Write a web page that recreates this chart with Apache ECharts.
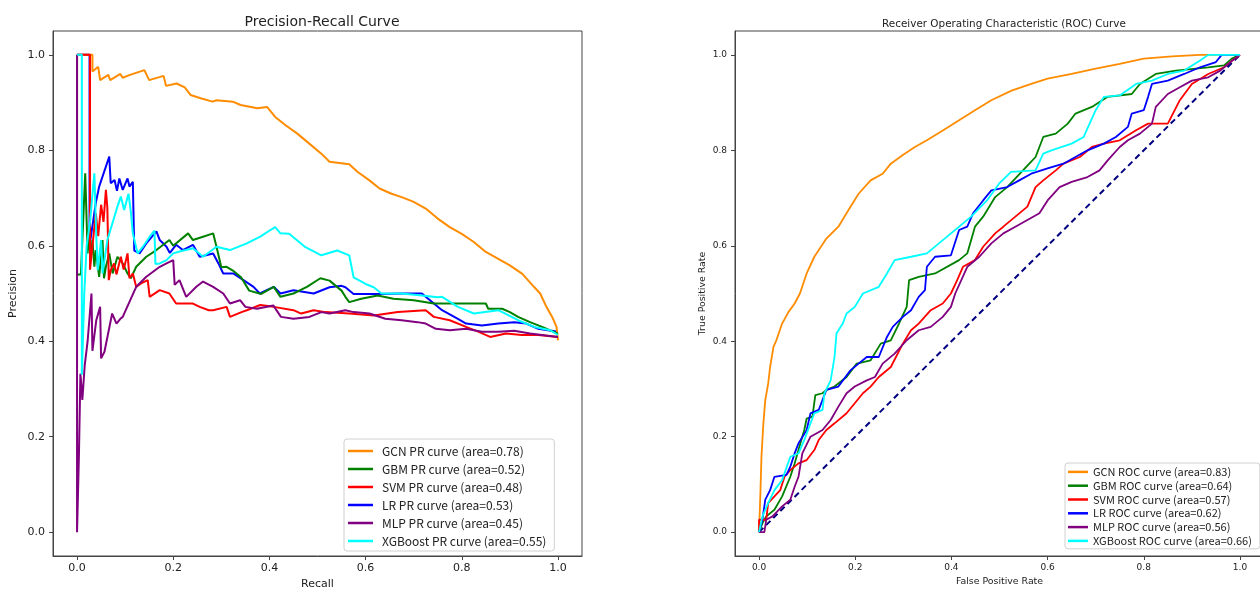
<!DOCTYPE html>
<html>
<head>
<meta charset="utf-8">
<script src="https://cdn.jsdelivr.net/npm/echarts@6/dist/echarts.min.js"></script>
<style>
html,body{margin:0;padding:0;background:#fff;}
#chart{width:1260px;height:592px;}
</style>
</head>
<body>
<div id="chart"></div>
<script>
// ---- tick labels ----
const tickValues = [0, 0.2, 0.4, 0.6, 0.8, 1.0];

// ---- series names ----
const prNames = ['GCN PR curve (area=0.78)','GBM PR curve (area=0.52)','SVM PR curve (area=0.48)','LR PR curve (area=0.53)','MLP PR curve (area=0.45)','XGBoost PR curve (area=0.55)'];
const rocNames = ['GCN ROC curve (area=0.83)','GBM ROC curve (area=0.64)','SVM ROC curve (area=0.57)','LR ROC curve (area=0.62)','MLP ROC curve (area=0.56)','XGBoost ROC curve (area=0.66)'];
const colors = ['#FF8C00','#008000','#FF0000','#0000FF','#800080','#00FFFF'];

// ---- Precision-Recall data: [recall, precision] ----
const gcnPR = [[0,1.0],[0.032,1.0],[0.032,0.965],[0.044,0.975],[0.048,0.947],[0.065,0.958],[0.069,0.947],[0.09,0.96],[0.095,0.952],[0.11,0.958],[0.14,0.968],[0.15,0.947],[0.18,0.956],[0.185,0.935],[0.207,0.94],[0.224,0.932],[0.236,0.916],[0.257,0.909],[0.282,0.902],[0.29,0.905],[0.324,0.902],[0.34,0.895],[0.375,0.888],[0.395,0.891],[0.412,0.87],[0.433,0.853],[0.458,0.835],[0.483,0.814],[0.508,0.793],[0.525,0.776],[0.566,0.771],[0.583,0.755],[0.608,0.737],[0.629,0.72],[0.654,0.709],[0.675,0.702],[0.7,0.692],[0.725,0.678],[0.75,0.657],[0.775,0.639],[0.8,0.625],[0.825,0.608],[0.85,0.587],[0.875,0.573],[0.9,0.559],[0.926,0.541],[0.951,0.513],[0.963,0.5],[0.976,0.472],[0.988,0.451],[0.997,0.43],[1.0,0.402]];
const gbmPR = [[0,1.0],[0,0.54],[0.008,0.54],[0.017,0.752],[0.022,0.584],[0.025,0.626],[0.028,0.57],[0.032,0.612],[0.036,0.556],[0.039,0.591],[0.046,0.535],[0.053,0.612],[0.056,0.532],[0.06,0.556],[0.067,0.584],[0.074,0.542],[0.084,0.577],[0.095,0.563],[0.105,0.542],[0.112,0.532],[0.123,0.556],[0.144,0.577],[0.165,0.591],[0.192,0.612],[0.2,0.6],[0.231,0.626],[0.241,0.612],[0.262,0.619],[0.283,0.626],[0.29,0.598],[0.3,0.555],[0.311,0.556],[0.324,0.548],[0.341,0.534],[0.358,0.506],[0.383,0.499],[0.409,0.514],[0.423,0.493],[0.45,0.5],[0.478,0.514],[0.506,0.532],[0.525,0.527],[0.55,0.506],[0.558,0.493],[0.566,0.482],[0.591,0.489],[0.625,0.496],[0.658,0.489],[0.7,0.486],[0.742,0.479],[0.8,0.479],[0.85,0.479],[0.855,0.468],[0.884,0.468],[0.9,0.461],[0.917,0.451],[0.942,0.44],[0.967,0.43],[1.0,0.416]];
const svmPR = [[0,1.0],[0.027,1.0],[0.027,0.55],[0.032,0.6],[0.039,0.668],[0.044,0.62],[0.05,0.686],[0.055,0.65],[0.06,0.717],[0.063,0.68],[0.066,0.528],[0.07,0.549],[0.077,0.563],[0.082,0.54],[0.091,0.577],[0.097,0.55],[0.105,0.584],[0.109,0.532],[0.116,0.542],[0.123,0.514],[0.133,0.521],[0.147,0.528],[0.151,0.493],[0.172,0.507],[0.192,0.5],[0.206,0.479],[0.216,0.479],[0.241,0.479],[0.255,0.472],[0.274,0.465],[0.283,0.465],[0.311,0.472],[0.318,0.451],[0.342,0.461],[0.353,0.465],[0.381,0.476],[0.409,0.472],[0.45,0.465],[0.466,0.458],[0.492,0.465],[0.516,0.461],[0.566,0.458],[0.617,0.454],[0.667,0.461],[0.725,0.465],[0.742,0.451],[0.775,0.444],[0.809,0.43],[0.834,0.42],[0.859,0.409],[0.892,0.416],[0.925,0.413],[0.959,0.413],[1.0,0.409]];
const lrPR = [[0,1.0],[0.026,1.0],[0.026,0.6],[0.039,0.69],[0.046,0.724],[0.067,0.787],[0.07,0.731],[0.078,0.738],[0.083,0.715],[0.088,0.741],[0.095,0.717],[0.105,0.741],[0.109,0.724],[0.116,0.734],[0.119,0.59],[0.13,0.584],[0.144,0.605],[0.165,0.63],[0.172,0.612],[0.186,0.598],[0.193,0.585],[0.206,0.602],[0.22,0.591],[0.241,0.602],[0.255,0.577],[0.283,0.584],[0.294,0.563],[0.304,0.542],[0.325,0.542],[0.346,0.528],[0.367,0.514],[0.38,0.5],[0.409,0.514],[0.423,0.5],[0.45,0.507],[0.492,0.5],[0.525,0.513],[0.55,0.516],[0.558,0.513],[0.575,0.499],[0.625,0.499],[0.675,0.5],[0.717,0.5],[0.742,0.479],[0.759,0.465],[0.792,0.447],[0.809,0.437],[0.842,0.433],[0.876,0.437],[0.909,0.44],[0.934,0.437],[0.959,0.426],[1.0,0.42]];
const mlpPR = [[0,1.0],[0,0],[0.004,0.165],[0.007,0.332],[0.011,0.277],[0.016,0.35],[0.022,0.4],[0.03,0.5],[0.032,0.38],[0.04,0.444],[0.048,0.472],[0.05,0.364],[0.057,0.378],[0.073,0.458],[0.082,0.437],[0.09,0.447],[0.095,0.451],[0.123,0.514],[0.144,0.535],[0.172,0.556],[0.186,0.563],[0.2,0.57],[0.203,0.518],[0.213,0.528],[0.227,0.493],[0.248,0.514],[0.262,0.525],[0.283,0.514],[0.304,0.5],[0.318,0.479],[0.339,0.486],[0.35,0.472],[0.374,0.468],[0.408,0.475],[0.424,0.451],[0.45,0.447],[0.483,0.451],[0.508,0.461],[0.525,0.458],[0.558,0.465],[0.575,0.461],[0.608,0.458],[0.641,0.447],[0.675,0.444],[0.708,0.44],[0.725,0.437],[0.746,0.426],[0.775,0.423],[0.809,0.426],[0.842,0.42],[0.876,0.42],[0.909,0.422],[0.942,0.416],[0.967,0.413],[1.0,0.409]];
const xgbPR = [[0,1.0],[0.01,1.0],[0.01,0.33],[0.015,0.5],[0.02,0.6],[0.027,0.65],[0.036,0.752],[0.04,0.62],[0.043,0.549],[0.05,0.612],[0.053,0.542],[0.063,0.612],[0.084,0.682],[0.091,0.703],[0.098,0.675],[0.107,0.709],[0.112,0.67],[0.116,0.626],[0.126,0.584],[0.137,0.598],[0.151,0.619],[0.161,0.632],[0.163,0.562],[0.172,0.563],[0.186,0.57],[0.2,0.584],[0.213,0.588],[0.241,0.595],[0.262,0.577],[0.29,0.598],[0.318,0.591],[0.353,0.605],[0.381,0.619],[0.402,0.633],[0.412,0.639],[0.423,0.626],[0.441,0.625],[0.475,0.597],[0.508,0.58],[0.541,0.59],[0.566,0.58],[0.575,0.534],[0.6,0.52],[0.617,0.513],[0.633,0.5],[0.675,0.5],[0.717,0.496],[0.75,0.492],[0.759,0.493],[0.792,0.472],[0.825,0.458],[0.876,0.465],[0.917,0.444],[0.951,0.43],[0.984,0.423],[1.0,0.413]];

// ---- ROC data: [fpr, tpr] ----
const gcnROC = [[0,0],[0.003,0.088],[0.005,0.158],[0.009,0.228],[0.013,0.277],[0.019,0.311],[0.023,0.346],[0.03,0.388],[0.036,0.402],[0.048,0.437],[0.061,0.461],[0.074,0.479],[0.085,0.5],[0.099,0.542],[0.115,0.577],[0.14,0.615],[0.165,0.64],[0.186,0.675],[0.207,0.709],[0.232,0.737],[0.257,0.751],[0.274,0.772],[0.299,0.79],[0.324,0.807],[0.349,0.821],[0.383,0.842],[0.416,0.863],[0.449,0.884],[0.483,0.905],[0.525,0.925],[0.566,0.939],[0.6,0.95],[0.65,0.96],[0.7,0.971],[0.75,0.981],[0.8,0.992],[0.859,0.997],[0.917,1.0],[1,1]];
const gbmROC = [[0,0],[0.007,0.019],[0.015,0.033],[0.032,0.047],[0.048,0.075],[0.065,0.116],[0.074,0.144],[0.082,0.172],[0.094,0.214],[0.099,0.238],[0.111,0.242],[0.117,0.287],[0.132,0.291],[0.14,0.298],[0.157,0.305],[0.182,0.325],[0.203,0.353],[0.232,0.36],[0.253,0.395],[0.274,0.402],[0.291,0.437],[0.307,0.472],[0.312,0.528],[0.332,0.535],[0.366,0.542],[0.416,0.57],[0.433,0.584],[0.449,0.64],[0.466,0.661],[0.491,0.702],[0.516,0.723],[0.562,0.772],[0.575,0.786],[0.591,0.828],[0.617,0.835],[0.642,0.856],[0.658,0.877],[0.692,0.891],[0.725,0.912],[0.775,0.918],[0.792,0.939],[0.825,0.96],[0.867,0.967],[0.934,0.974],[0.967,0.978],[0.983,0.992],[1,1]];
const svmROC = [[0,0],[0,0.026],[0.015,0.026],[0.019,0.061],[0.032,0.075],[0.044,0.088],[0.053,0.116],[0.065,0.13],[0.082,0.144],[0.099,0.151],[0.115,0.172],[0.124,0.193],[0.14,0.214],[0.157,0.228],[0.182,0.249],[0.199,0.27],[0.216,0.291],[0.232,0.305],[0.249,0.325],[0.274,0.346],[0.299,0.395],[0.316,0.423],[0.332,0.437],[0.357,0.465],[0.382,0.479],[0.399,0.5],[0.412,0.528],[0.424,0.556],[0.449,0.57],[0.466,0.598],[0.491,0.626],[0.508,0.64],[0.533,0.661],[0.558,0.682],[0.575,0.723],[0.591,0.737],[0.617,0.758],[0.633,0.772],[0.667,0.786],[0.692,0.807],[0.717,0.814],[0.75,0.821],[0.784,0.842],[0.809,0.856],[0.85,0.856],[0.875,0.905],[0.9,0.939],[0.934,0.96],[0.967,0.974],[0.984,0.988],[1,1]];
const lrROC = [[0,0],[0.007,0.026],[0.013,0.068],[0.023,0.088],[0.032,0.116],[0.057,0.12],[0.065,0.137],[0.074,0.165],[0.082,0.186],[0.099,0.214],[0.107,0.249],[0.124,0.256],[0.14,0.298],[0.165,0.305],[0.19,0.339],[0.207,0.353],[0.224,0.367],[0.249,0.367],[0.266,0.409],[0.278,0.43],[0.299,0.451],[0.316,0.465],[0.332,0.493],[0.345,0.507],[0.349,0.556],[0.366,0.577],[0.399,0.58],[0.416,0.633],[0.433,0.64],[0.445,0.668],[0.466,0.695],[0.483,0.716],[0.516,0.723],[0.541,0.737],[0.566,0.751],[0.6,0.762],[0.633,0.772],[0.658,0.786],[0.683,0.8],[0.717,0.814],[0.742,0.828],[0.767,0.849],[0.775,0.877],[0.8,0.884],[0.809,0.912],[0.817,0.939],[0.85,0.946],[0.884,0.96],[0.917,0.974],[0.95,0.985],[0.962,1.0],[1,1]];
const mlpROC = [[0,0],[0.011,0],[0.015,0.026],[0.028,0.033],[0.048,0.054],[0.065,0.068],[0.074,0.095],[0.082,0.116],[0.09,0.165],[0.107,0.2],[0.132,0.214],[0.149,0.235],[0.165,0.263],[0.182,0.291],[0.199,0.305],[0.224,0.318],[0.241,0.325],[0.257,0.353],[0.282,0.374],[0.307,0.402],[0.332,0.423],[0.357,0.43],[0.382,0.451],[0.399,0.472],[0.408,0.5],[0.433,0.556],[0.458,0.577],[0.483,0.605],[0.508,0.626],[0.533,0.64],[0.558,0.654],[0.583,0.668],[0.6,0.695],[0.625,0.723],[0.65,0.734],[0.683,0.744],[0.708,0.758],[0.725,0.779],[0.75,0.807],[0.767,0.821],[0.792,0.835],[0.817,0.856],[0.825,0.891],[0.85,0.918],[0.875,0.932],[0.9,0.946],[0.934,0.953],[0.959,0.967],[0.984,0.988],[1,1]];
const xgbROC = [[0,0],[0.007,0.033],[0.019,0.061],[0.032,0.088],[0.048,0.109],[0.065,0.158],[0.082,0.165],[0.094,0.193],[0.107,0.228],[0.115,0.249],[0.132,0.256],[0.136,0.291],[0.149,0.318],[0.157,0.367],[0.161,0.416],[0.174,0.437],[0.182,0.458],[0.199,0.472],[0.216,0.5],[0.249,0.514],[0.266,0.542],[0.282,0.57],[0.316,0.577],[0.349,0.584],[0.374,0.605],[0.399,0.626],[0.416,0.64],[0.441,0.661],[0.474,0.695],[0.499,0.73],[0.524,0.755],[0.575,0.758],[0.591,0.793],[0.608,0.8],[0.65,0.814],[0.675,0.828],[0.7,0.884],[0.717,0.912],[0.75,0.915],[0.784,0.939],[0.817,0.946],[0.85,0.96],[0.884,0.967],[0.917,0.988],[0.934,1.0],[1,1]];
const chanceLine = [[0,0],[1,1]];

const prData = [gcnPR, gbmPR, svmPR, lrPR, mlpPR, xgbPR];
const rocData = [gcnROC, gbmROC, svmROC, lrROC, mlpROC, xgbROC];

const chart = echarts.init(document.getElementById('chart'), null, {renderer: 'canvas'});
const fmt = v => v.toFixed(1);
const FONT = 'DejaVu Sans';

function makeAxis(gridIndex, name, gap, fontSize, nameSize, isY) {
  return {
    type: 'value', gridIndex, min: -0.05, max: 1.05,
    name, nameLocation: 'middle', nameGap: gap,
    nameTextStyle: {fontFamily: FONT, fontSize: nameSize, color: '#222'},
    axisLine: {show: true, onZero: false, lineStyle: {color: '#444', width: 1}},
    axisTick: {show: true, inside: false, length: 4, customValues: tickValues, lineStyle: {color: '#444'}},
    axisLabel: {customValues: tickValues, formatter: fmt, fontFamily: FONT, fontSize, color: '#222', margin: isY ? 8 : 7},
    splitLine: {show: false}
  };
}

const series = [];
prData.forEach((d, i) => series.push({
  name: prNames[i], type: 'line', xAxisIndex: 0, yAxisIndex: 0, data: d,
  symbol: 'none', lineStyle: {width: 2, color: colors[i]}, itemStyle: {color: colors[i]},
  z: i === 3 ? 1.9 : 2
}));
rocData.forEach((d, i) => series.push({
  name: rocNames[i], type: 'line', xAxisIndex: 1, yAxisIndex: 1, data: d,
  symbol: 'none', lineStyle: {width: 1.8, color: colors[i]}, itemStyle: {color: colors[i]}
}));
series.push({
  name: 'chance', type: 'line', xAxisIndex: 1, yAxisIndex: 1, data: chanceLine,
  symbol: 'none', lineStyle: {width: 2, color: '#000080', type: [6, 4]}, z: 1
});

chart.setOption({
  animation: false,
  backgroundColor: '#fff',
  title: [
    {text: 'Precision-Recall Curve', left: 317, top: 10, textAlign: 'center',
     textStyle: {fontFamily: FONT, fontSize: 14, fontWeight: 'normal', color: '#222'}},
    {text: 'Receiver Operating Characteristic (ROC) Curve', left: 999, top: 14, textAlign: 'center',
     textStyle: {fontFamily: FONT, fontSize: 10.4, fontWeight: 'normal', color: '#222'}}
  ],
  grid: [
    {left: 53, top: 31, width: 529, height: 525, show: true, borderColor: '#444', borderWidth: 1, containLabel: false, outerBoundsMode: 'none'},
    {left: 735, top: 31, width: 529, height: 525, show: true, borderColor: '#444', borderWidth: 1, containLabel: false, outerBoundsMode: 'none'}
  ],
  xAxis: [makeAxis(0, 'Recall', 23, 11, 11, false), makeAxis(1, 'False Positive Rate', 18, 9, 9.4, false)],
  yAxis: [makeAxis(0, 'Precision', 34, 11, 11, true), makeAxis(1, 'True Positive Rate', 28, 9, 9.4, true)],
  legend: [
    {data: prNames, orient: 'vertical', left: 344, top: 439, icon: 'rect', itemWidth: 25, itemHeight: 2.5, itemGap: 0,
     padding: [3, 8, 1, 4], backgroundColor: '#fff', borderColor: '#d0d0d0', borderWidth: 1, borderRadius: 3,
     textStyle: {fontFamily: 'Noto Sans CJK SC', fontSize: 12, color: '#222', lineHeight: 18, padding: [0, 0, 0, 4]}},
    {data: rocNames, orient: 'vertical', left: 1065, top: 463, icon: 'rect', itemWidth: 20, itemHeight: 2.5, itemGap: 0,
     padding: [2, 8, 1, 3], backgroundColor: '#fff', borderColor: '#d0d0d0', borderWidth: 1, borderRadius: 3,
     textStyle: {fontFamily: 'Noto Sans CJK SC', fontSize: 11, color: '#222', lineHeight: 13.8}}
  ],
  series
});
</script>
</body>
</html>
